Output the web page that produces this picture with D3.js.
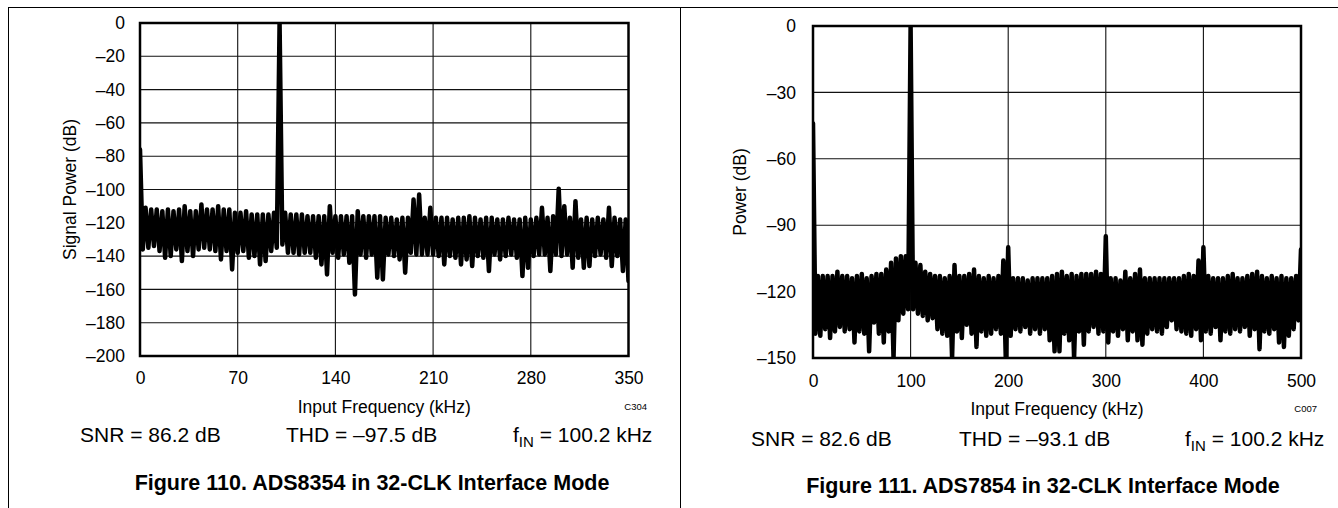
<!DOCTYPE html>
<html>
<head>
<meta charset="utf-8">
<script src="https://cdn.jsdelivr.net/npm/d3@7"></script>
<style>
body { margin: 0; background: #fff; }
svg { font-family: "Liberation Sans", Arial, Helvetica, sans-serif; }
svg text { fill: #000; }
</style>
</head>
<body>
<svg id="chart" width="1338" height="508"></svg>
<script>

// Figure 110 - ADS8354, one value per 2 kHz FFT bin (dB)
var binStepLeft = 2;
var powerLeft = [
  -76, -136, -111, -135, -112, -134, -112, -137, -113, -141,
  -112, -140, -113, -136, -112, -143, -110, -137, -113, -140,
  -113, -136, -109, -135, -112, -136, -112, -137, -110, -142,
  -112, -137, -112, -148, -114, -138, -114, -137, -113, -141,
  -115, -140, -115, -145, -115, -143, -115, -137, -114, -135,
  0, -133, -114, -138, -115, -138, -115, -139, -115, -138,
  -116, -138, -116, -141, -116, -145, -116, -151, -110, -138,
  -116, -141, -116, -139, -116, -144, -116, -163, -113, -139,
  -116, -141, -116, -139, -116, -153, -116, -154, -117, -139,
  -117, -140, -118, -142, -117, -150, -117, -138, -106, -139,
  -103, -139, -117, -139, -111, -139, -117, -140, -117, -145,
  -117, -140, -118, -141, -117, -145, -117, -142, -116, -146,
  -117, -140, -118, -141, -117, -149, -117, -139, -118, -142,
  -118, -140, -117, -139, -118, -141, -118, -152, -117, -147,
  -118, -140, -117, -139, -111, -139, -117, -149, -116, -139,
  -99.5, -140, -110, -139, -117, -147, -107, -141, -118, -147,
  -117, -146, -118, -140, -117, -139, -118, -141, -111, -146,
  -117, -140, -118, -149, -118, -155
];

// Figure 111 - ADS7854, one value per 2.5 kHz FFT bin (dB)
var binStepRight = 2.5;
var powerRight = [
  -44, -139, -113, -140, -113, -137, -113, -141, -113, -138,
  -111, -136, -113, -138, -113, -137, -114, -143, -113, -138,
  -112, -139, -114, -147, -113, -134, -112, -139, -112, -143,
  -110, -138, -107, -150, -105, -133, -104, -130, -104, -128,
  0, -128, -107, -130, -108, -131, -111, -133, -112, -132,
  -113, -137, -113, -139, -114, -140, -113, -150, -108, -138,
  -113, -141, -113, -135, -112, -139, -110, -145, -113, -138,
  -114, -140, -113, -139, -114, -137, -113, -139, -106, -150,
  -100, -140, -114, -137, -114, -138, -114, -136, -115, -139,
  -114, -137, -114, -139, -114, -137, -114, -142, -113, -147,
  -112, -147, -111, -139, -113, -142, -112, -150, -113, -138,
  -112, -144, -112, -138, -112, -136, -111, -139, -112, -138,
  -95, -143, -114, -138, -114, -140, -115, -137, -111, -142,
  -114, -138, -112, -142, -110, -144, -114, -139, -114, -137,
  -114, -138, -114, -139, -114, -136, -114, -133, -114, -137,
  -114, -138, -113, -139, -112, -140, -113, -137, -106, -142,
  -100, -138, -113, -139, -114, -136, -114, -142, -114, -138,
  -113, -139, -112, -137, -114, -138, -114, -136, -113, -140,
  -112, -137, -111, -146, -113, -138, -114, -139, -113, -137,
  -114, -143, -113, -145, -114, -140, -114, -137, -113, -133,
  -101
];

var xTicksLeft = [0, 70, 140, 210, 280, 350];
var yTicksLeft = [0, -20, -40, -60, -80, -100, -120, -140, -160, -180, -200];
var xTicksRight = [0, 100, 200, 300, 400, 500];
var yTicksRight = [0, -30, -60, -90, -120, -150];

var yTitles = ["Signal Power (dB)", "Power (dB)"];
var codes = ["C304", "C007"];
var snrTexts = ["SNR = 86.2 dB", "SNR = 82.6 dB"];
var thdTexts = ["THD = \u201397.5 dB", "THD = \u201393.1 dB"];
var finTexts = [" = 100.2 kHz", " = 100.2 kHz"];
var captions = ["Figure 110. ADS8354 in 32-CLK Interface Mode", "Figure 111. ADS7854 in 32-CLK Interface Mode"];

// layout of the two panels (pixels)
var panels = [
  { left: 140, right: 628.5, top: 23, bottom: 356, data: powerLeft, step: binStepLeft,
    xTicks: xTicksLeft, yTicks: yTicksLeft, yTitleX: 76, labelGap: 15, xLabelY: 384, xTitleY: 413, codeX: 647,
    textY: 442, snrX: 80, thdX: 286, finX: 513, capX: 372, capY: 490 },
  { left: 813, right: 1301, top: 26, bottom: 358, data: powerRight, step: binStepRight,
    xTicks: xTicksRight, yTicks: yTicksRight, yTitleX: 746, labelGap: 17, xLabelY: 387, xTitleY: 415, codeX: 1317,
    textY: 446, snrX: 751, thdX: 959, finX: 1185, capX: 1043, capY: 493 }
];

var svg = d3.select("#chart");

// page frame
svg.append("line").attr("x1", 8).attr("x2", 1338).attr("y1", 7.5).attr("y2", 7.5).attr("stroke", "#000").attr("stroke-width", 1);
svg.append("line").attr("x1", 8.5).attr("x2", 8.5).attr("y1", 7).attr("y2", 508).attr("stroke", "#000").attr("stroke-width", 1);
svg.append("line").attr("x1", 680.5).attr("x2", 680.5).attr("y1", 7).attr("y2", 508).attr("stroke", "#000").attr("stroke-width", 1);

function dash(d) { return d < 0 ? "\u2013" + Math.abs(d) : String(d); }

panels.forEach(function (p, k) {
  var x = d3.scaleLinear().domain([0, p.xTicks[p.xTicks.length - 1]]).range([p.left, p.right]);
  var y = d3.scaleLinear().domain([0, p.yTicks[p.yTicks.length - 1]]).range([p.top, p.bottom]);
  var w = p.right - p.left, h = p.bottom - p.top;

  // grid
  var grid = svg.append("g");
  grid.selectAll(".gx").data(p.xTicks.slice(1, -1)).enter().append("line")
    .attr("x1", function (d) { return x(d); }).attr("x2", function (d) { return x(d); })
    .attr("y1", p.top).attr("y2", p.bottom).attr("stroke", "#111").attr("stroke-width", 1.1);
  grid.selectAll(".gy").data(p.yTicks.slice(1, -1)).enter().append("line")
    .attr("y1", function (d) { return y(d); }).attr("y2", function (d) { return y(d); })
    .attr("x1", p.left).attr("x2", p.right).attr("stroke", "#111").attr("stroke-width", 1.1);

  // trace
  var clipId = "clip" + k;
  svg.append("clipPath").attr("id", clipId).append("rect")
    .attr("x", p.left).attr("y", p.top).attr("width", w).attr("height", h);
  var pts = p.data.map(function (v, i) { return { f: i * p.step, v: v }; });
  var line = d3.line().x(function (d) { return x(d.f); }).y(function (d) { return y(d.v); });
  svg.append("path").datum(pts).attr("clip-path", "url(#" + clipId + ")")
    .attr("d", line).attr("fill", "none").attr("stroke", "#000")
    .attr("stroke-width", 4.5).attr("stroke-linejoin", "round").attr("stroke-linecap", "round");

  // frame of the plot
  svg.append("rect").attr("x", p.left).attr("y", p.top).attr("width", w).attr("height", h)
    .attr("fill", "none").attr("stroke", "#000").attr("stroke-width", 2.5);

  // axes: labels only
  var ya = svg.append("g").attr("transform", "translate(" + p.left + ",0)")
    .call(d3.axisLeft(y).tickValues(p.yTicks).tickSize(0).tickPadding(p.labelGap).tickFormat(dash));
  ya.select(".domain").remove();
  ya.selectAll("text").attr("font-size", 17.5).attr("font-family", null).attr("fill", "#000");

  var xa = svg.append("g").attr("transform", "translate(0," + p.bottom + ")")
    .call(d3.axisBottom(x).tickValues(p.xTicks).tickSize(0).tickFormat(dash));
  xa.select(".domain").remove();
  xa.selectAll("text").attr("font-size", 17.5).attr("font-family", null).attr("fill", "#000")
    .attr("y", p.xLabelY - p.bottom).attr("dy", 0);

  // titles
  svg.append("text").attr("x", (p.left + p.right) / 2).attr("y", p.xTitleY)
    .attr("text-anchor", "middle").attr("font-size", 17.5).text("Input Frequency (kHz)");
  svg.append("text").attr("transform", "translate(" + p.yTitleX + "," + (p.top + p.bottom) / 2 + ") rotate(-90)")
    .attr("text-anchor", "middle").attr("font-size", 17.5).text(yTitles[k]);
  svg.append("text").attr("x", p.codeX).attr("y", p.xTitleY - 3)
    .attr("text-anchor", "end").attr("font-size", 9.5).text(codes[k]);

  // SNR / THD / fIN line
  svg.append("text").attr("x", p.snrX).attr("y", p.textY).attr("font-size", 21).text(snrTexts[k]);
  svg.append("text").attr("x", p.thdX).attr("y", p.textY).attr("font-size", 21).text(thdTexts[k]);
  var fin = svg.append("text").attr("x", p.finX).attr("y", p.textY).attr("font-size", 21);
  fin.append("tspan").text("f");
  fin.append("tspan").attr("dy", 5).attr("font-size", 15).text("IN");
  fin.append("tspan").attr("dy", -5).text(finTexts[k]);

  // caption
  svg.append("text").attr("x", p.capX).attr("y", p.capY).attr("text-anchor", "middle")
    .attr("font-size", 21.5).attr("font-weight", "bold").text(captions[k]);
});
</script>
</body>
</html>
